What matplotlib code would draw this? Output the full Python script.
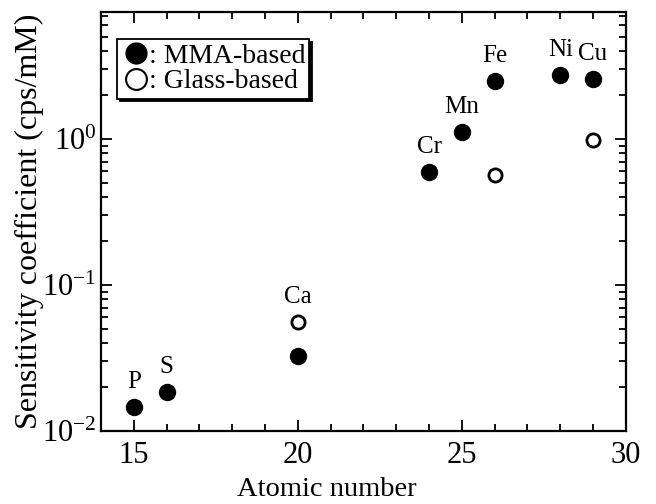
import matplotlib

matplotlib.use('Agg')

import matplotlib.pyplot as plt
from matplotlib.lines import Line2D
from matplotlib.ticker import LogLocator, MultipleLocator, NullFormatter

# sensitivity coefficients by atomic number
elements = ['P', 'S', 'Ca', 'Cr', 'Mn', 'Fe', 'Ni', 'Cu']
mma_z = [15, 16, 20, 24, 25, 26, 28, 29]
mma_sens = [0.0146, 0.0185, 0.0325, 0.595, 1.12, 2.49, 2.73, 2.57]

glass_z = [20, 26, 29]
glass_sens = [0.0555, 0.568, 0.98]

# element labels sit above the highest point at each atomic number
label_y = {}
for z, s in zip(mma_z, mma_sens):
    label_y[z] = s
for z, s in zip(glass_z, glass_sens):
    label_y[z] = max(label_y.get(z, 0), s)

plt.rcParams['font.family'] = ['Liberation Serif', 'DejaVu Serif']
plt.rcParams['mathtext.fontset'] = 'stix'

fig = plt.figure(figsize=(6.56, 5.04), dpi=100)
ax = fig.add_axes([0.154, 0.145, 0.800, 0.831])

ax.plot(mma_z, mma_sens, 'o', color='black', markersize=11.5, linestyle='none')
ax.plot(glass_z, glass_sens, 'o', markerfacecolor='white', markeredgecolor='black',
        markeredgewidth=2, markersize=9.5, linestyle='none')

for name, z in zip(elements, mma_z):
    ax.annotate(name, (z, label_y[z]), xytext=(0, 18), textcoords='offset points',
                ha='center', va='center', fontsize=18)

ax.set_yscale('log')
ax.set_xlim(14, 30)
ax.set_ylim(0.01, 7.4)

ax.xaxis.set_major_locator(MultipleLocator(5))
ax.xaxis.set_minor_locator(MultipleLocator(1))
ax.yaxis.set_major_locator(LogLocator(base=10, numticks=10))
ax.yaxis.set_minor_locator(LogLocator(base=10, subs=range(2, 10), numticks=10))
ax.yaxis.set_minor_formatter(NullFormatter())

ax.tick_params(which='both', direction='in', top=True, right=True, labelsize=22, width=1.3)
ax.tick_params(which='major', length=8)
ax.tick_params(which='minor', length=5)
ax.tick_params(axis='x', pad=7)
for sp in ax.spines.values():
    sp.set_linewidth(1.6)

ax.set_xlabel('Atomic number', fontsize=20.5)
ax.xaxis.set_label_coords(0.43, -0.11)
ax.set_ylabel('Sensitivity coefficient (cps/mM)', fontsize=23)
ax.yaxis.set_label_coords(-0.108, 0.5)

# legend markers are drawn larger than the data points
handles = [
    Line2D([], [], marker='o', color='black', markersize=15, linestyle='none'),
    Line2D([], [], marker='o', markerfacecolor='white', markeredgecolor='black',
           markeredgewidth=1.5, markersize=15, linestyle='none'),
]
leg = ax.legend(handles, [': MMA-based', ': Glass-based'], loc='upper left',
                bbox_to_anchor=(0.03, 0.935), fontsize=20, frameon=True, fancybox=False,
                handletextpad=-0.1, handlelength=1.1, borderpad=0.15, labelspacing=0.0,
                borderaxespad=0, shadow={'color': 'black', 'alpha': 1.0})
leg.get_frame().set_edgecolor('black')
leg.get_frame().set_linewidth(1.3)

plt.savefig('out.png')
